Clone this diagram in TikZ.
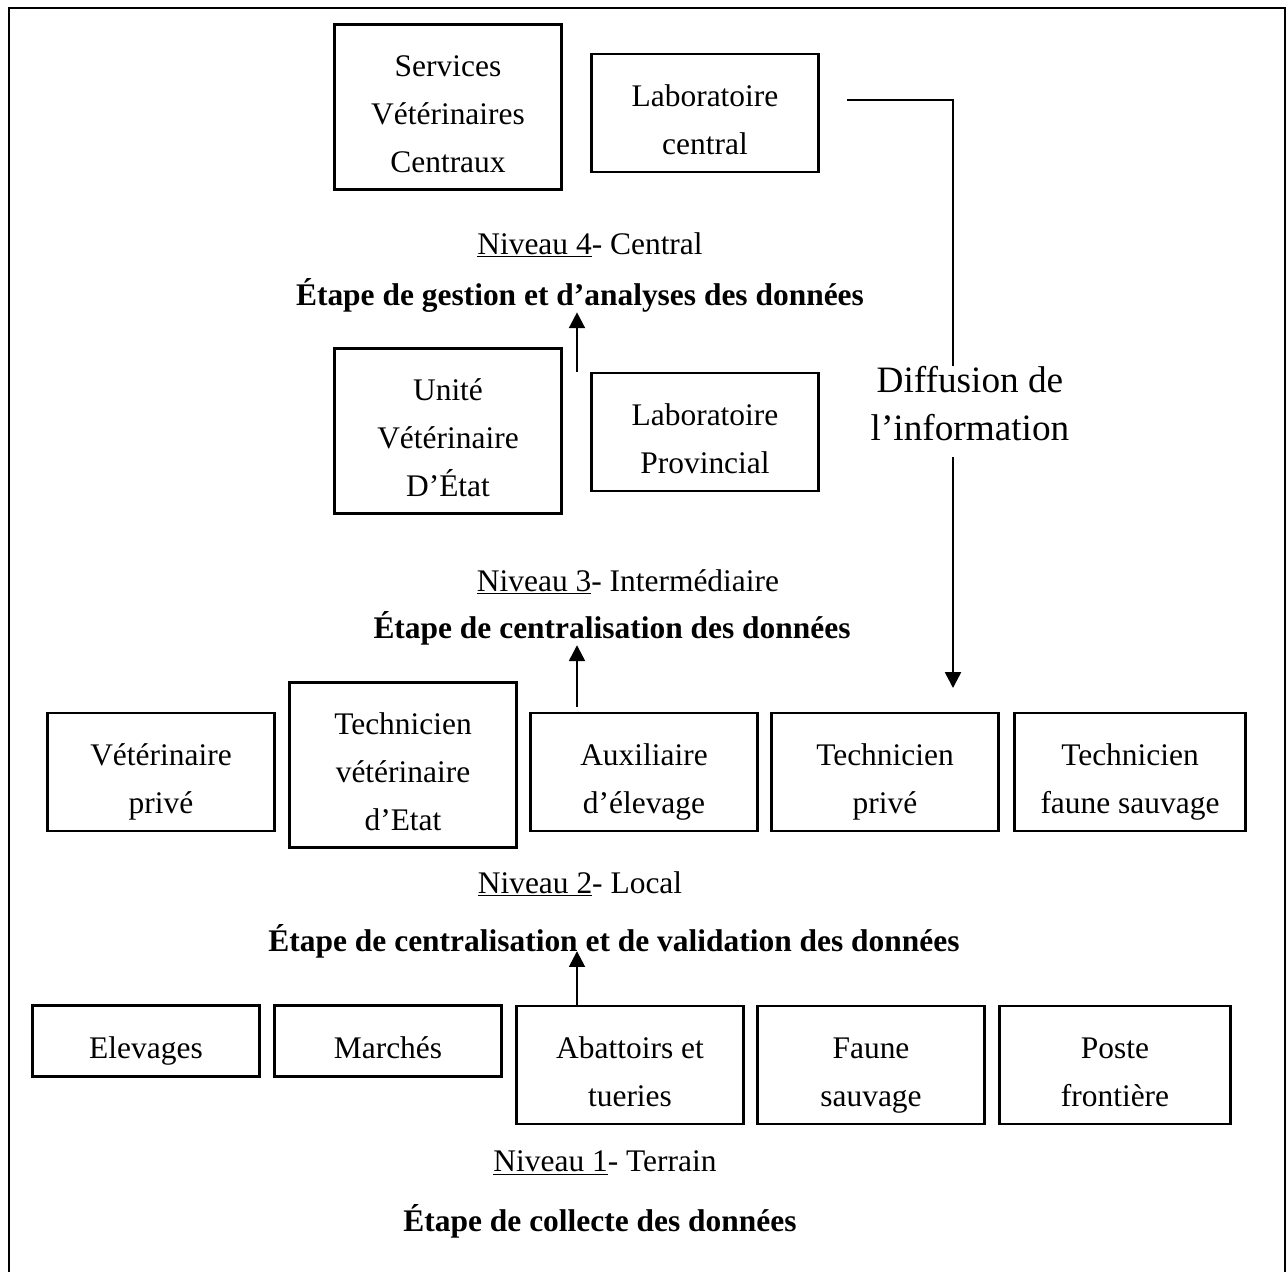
\documentclass[tikz,border=0pt]{standalone}
\usepackage{fontspec}
\setmainfont{Liberation Serif}
\usetikzlibrary{arrows.meta,calc}
\newcommand{\hautligne}{\rule{0pt}{26pt}}

\begin{document}
\begin{tikzpicture}[x=0.02cm,y=-0.02cm,
  every node/.style={font=\fontsize{17.9}{27.3}\selectfont},
  box/.style={draw,line width=1.2pt,align=center,inner sep=0pt,minimum width=4.54cm,minimum height=2.36cm,
    execute at end node={\rule[-5.7pt]{0pt}{5.7pt}}},
  haute/.style={minimum height=3.3cm},
  basse/.style={minimum height=1.42cm},
  titre/.style={inner sep=0pt},
  etape/.style={inner sep=0pt,font=\fontsize{17.9}{27.3}\selectfont\bfseries},
  fleche/.style={line width=1.4pt,-{Triangle[length=9pt,width=9pt]}}]
\useasboundingbox (0,0) rectangle (1288,1272);
\draw [line width=1.5pt] (9,1272) -- (9,8) -- (1285,8) -- (1285,1272);

\node [box,haute] (svc) at (448,107) {\hautligne Services\\Vétérinaires\\Centraux};
\node [box] (labc) at (705,113) {\hautligne Laboratoire\\central};
\node [titre] (n4) at (590,245) {\underline{Niveau 4}- Central};
\node [etape] (e4) at (580,295) {Étape de gestion et d’analyses des données};

\node [box,haute] (uve) at (448,431) {\hautligne Unité\\Vétérinaire\\D’État};
\node [box] (labp) at (705,432) {\hautligne Laboratoire\\Provincial};
\node [titre] (n3) at (628,582) {\underline{Niveau 3}- Intermédiaire};
\node [etape] (e3) at (612,628) {Étape de centralisation des données};

\node [box] (vp) at (161,772) {\hautligne Vétérinaire\\privé};
\node [box,haute] (tve) at (403,765) {\hautligne Technicien\\vétérinaire\\d’Etat};
\node [box] (aux) at (644,772) {\hautligne Auxiliaire\\d’élevage};
\node [box] (tp) at (885,772) {\hautligne Technicien\\privé};
\node [box,minimum width=4.62cm] (tfs) at (1130,772) {\hautligne Technicien\\faune sauvage};
\node [titre] (n2) at (580,884) {\underline{Niveau 2}- Local};
\node [etape] (e2) at (614,941) {Étape de centralisation et de validation des données};

\node [box,basse] (elev) at (146,1041) {\hautligne Elevages};
\node [box,basse] (marc) at (388,1041) {\hautligne Marchés};
\node [box] (abat) at (630,1065) {\hautligne Abattoirs et\\tueries};
\node [box] (faune) at (871,1065) {\hautligne Faune\\sauvage};
\node [box,minimum width=4.62cm] (poste) at (1115,1065) {\hautligne Poste\\frontière};
\node [titre] (n1) at (605,1163) {\underline{Niveau 1}- Terrain};
\node [etape] (e1) at (600,1221) {Étape de collecte des données};

\node [font=\fontsize{21.2}{27.3}\selectfont,align=center,inner sep=0pt] (diff) at (970,404) {Diffusion de\\l’information};
\coordinate (d0) at (847,100);
\coordinate (d1) at (953,100);
\coordinate (d2) at (953,688);
\coordinate (axe) at (577,0);
\draw [line width=1.2pt] (d0) -- (d1) -- (d1 |- diff.north);
\draw [fleche,shorten <=9pt] (d1 |- diff.south) -- (d2);

\draw [fleche] (labp.north -| axe) -- (e4.south -| axe);
\draw [fleche,shorten <=3pt] (aux.north -| axe) -- (e3.south -| axe);
\draw [fleche] (abat.north -| axe) -- (e2.base -| axe);
\end{tikzpicture}
\end{document}
